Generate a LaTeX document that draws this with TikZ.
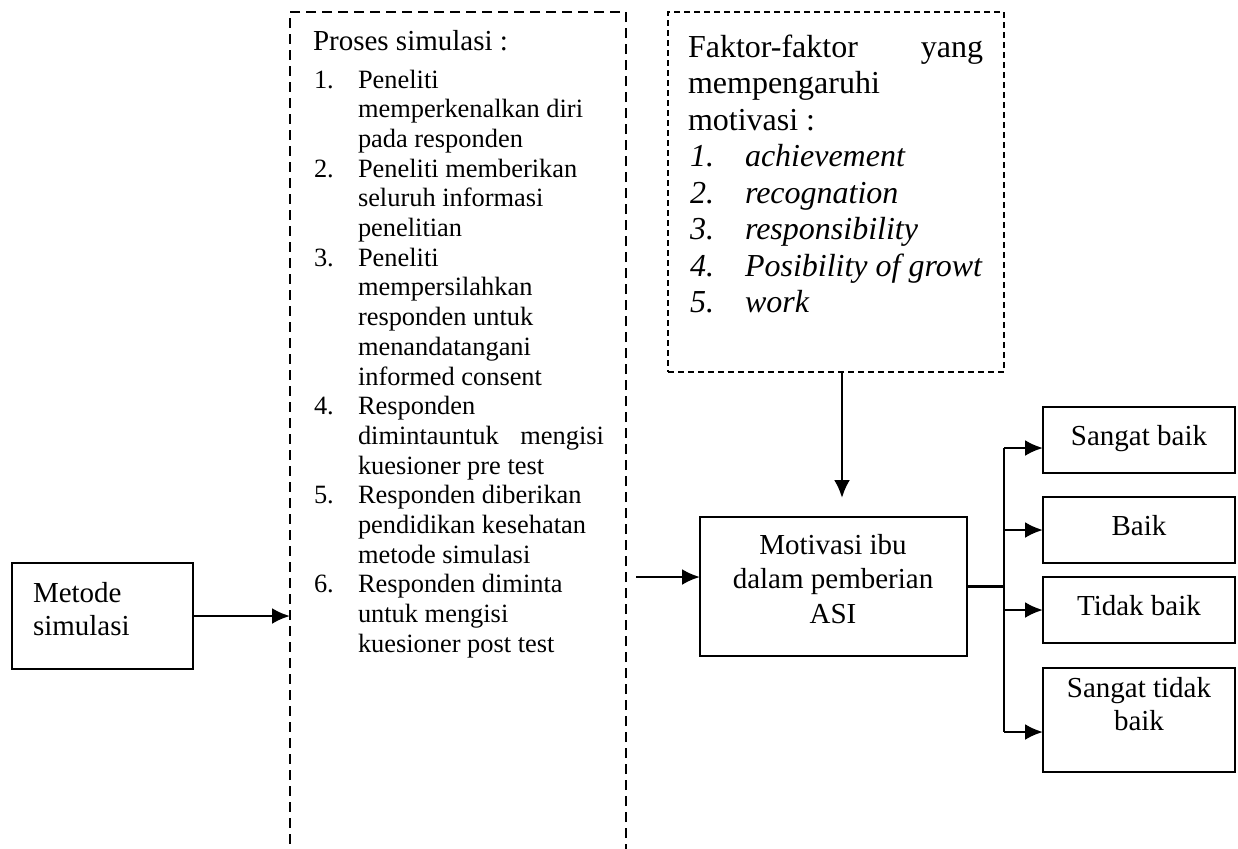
\documentclass[tikz,border=0pt]{standalone}
\usepackage{fontspec}
\setmainfont{Liberation Serif}
\usetikzlibrary{arrows.meta}
\tikzset{
  box/.style={draw,line width=1pt,inner sep=0pt,outer sep=0pt,anchor=north west},
  dashbox/.style={box,line width=1.1pt,dash pattern=on 5pt off 3pt},
  finebox/.style={box,line width=1.1pt,dash pattern=on 3pt off 2pt},
  itemtxt/.style={inner sep=0pt,outer sep=0pt,anchor=base west,font=\fontsize{13.2}{15}\selectfont},
  headtxt/.style={itemtxt,font=\fontsize{14.5}{16.7}\selectfont},
  factxt/.style={itemtxt,font=\fontsize{16}{18.4}\selectfont},
  facit/.style={itemtxt,font=\fontsize{16}{18.4}\selectfont\itshape},
  boxctr/.style={headtxt,anchor=base},
  arr/.style={-{Latex[length=9pt,width=8pt]},line width=1.3pt},
  wire/.style={line width=1.1pt},
}
\begin{document}
\begin{tikzpicture}[x=.5pt,y=-.5pt]
\useasboundingbox (0,0) rectangle (1238,848);
% boxes
\node[box,minimum width=90.5pt,minimum height=53pt] (metode) at (12,563) {};
\node[dashbox,minimum width=168pt,minimum height=429pt] (proses) at (290,12) {};
\node[finebox,minimum width=168pt,minimum height=180pt] (faktor) at (668,12) {};
\node[box,minimum width=133.5pt,minimum height=69.5pt] (motivasi) at (700,517) {};
\node[box,minimum width=96pt,minimum height=33pt] (sb) at (1043,407) {};
\node[box,minimum width=96pt,minimum height=33pt] (b) at (1043,497) {};
\node[box,minimum width=96pt,minimum height=33pt] (tb) at (1043,577) {};
\node[box,minimum width=96pt,minimum height=52pt] (stb) at (1043,668) {};
% metode
\node[headtxt] (m1) at (33,602) {Metode};
\node[headtxt] (m2) at (33,635) {simulasi};
% proses simulasi
\node[headtxt] (p0) at (313,50) {Proses simulasi :};
\node[itemtxt] (n1) at (314,88) {1.};
\node[itemtxt] (p1) at (358,88) {Peneliti};
\node[itemtxt] (p2) at (358,117.7) {memperkenalkan diri};
\node[itemtxt] (p3) at (358,147.4) {pada responden};
\node[itemtxt] (n2) at (314,177.1) {2.};
\node[itemtxt] (p4) at (358,177.1) {Peneliti memberikan};
\node[itemtxt] (p5) at (358,206.8) {seluruh informasi};
\node[itemtxt] (p6) at (358,236.5) {penelitian};
\node[itemtxt] (n3) at (314,266.2) {3.};
\node[itemtxt] (p7) at (358,266.2) {Peneliti};
\node[itemtxt] (p8) at (358,295.9) {mempersilahkan};
\node[itemtxt] (p9) at (358,325.6) {responden untuk};
\node[itemtxt] (p10) at (358,355.3) {menandatangani};
\node[itemtxt] (p11) at (358,385) {informed consent};
\node[itemtxt] (n4) at (314,414.7) {4.};
\node[itemtxt] (p12) at (358,414.7) {Responden};
\node[itemtxt] (p13) at (358,444.4) {\makebox[123pt][s]{dimintauntuk mengisi}};
\node[itemtxt] (p14) at (358,474.1) {kuesioner pre test};
\node[itemtxt] (n5) at (314,503.8) {5.};
\node[itemtxt] (p15) at (358,503.8) {Responden diberikan};
\node[itemtxt] (p16) at (358,533.5) {pendidikan kesehatan};
\node[itemtxt] (p17) at (358,563.2) {metode simulasi};
\node[itemtxt] (n6) at (314,592.9) {6.};
\node[itemtxt] (p18) at (358,592.9) {Responden diminta};
\node[itemtxt] (p19) at (358,622.6) {untuk mengisi};
\node[itemtxt] (p20) at (358,652.3) {kuesioner post test};
% faktor
\node[factxt] (f0) at (688,57) {\makebox[147.5pt][s]{Faktor-faktor yang}};
\node[factxt] (f1) at (688,93.5) {mempengaruhi};
\node[factxt] (f2) at (688,130) {motivasi :};
\node[facit] (k1) at (690,166.5) {1.};
\node[facit] (f3) at (745,166.5) {achievement};
\node[facit] (k2) at (690,203) {2.};
\node[facit] (f4) at (745,203) {recognation};
\node[facit] (k3) at (690,239.5) {3.};
\node[facit] (f5) at (745,239.5) {responsibility};
\node[facit] (k4) at (690,276) {4.};
\node[facit] (f6) at (745,276) {Posibility of growt};
\node[facit] (k5) at (690,312.5) {5.};
\node[facit] (f7) at (745,312.5) {work};
% motivasi
\node[boxctr] (v1) at (833,554) {Motivasi ibu};
\node[boxctr] (v2) at (833,588) {dalam pemberian};
\node[boxctr] (v3) at (833,623) {ASI};
% hasil
\node[boxctr] (h1) at (1139,445) {Sangat baik};
\node[boxctr] (h2) at (1139,535) {Baik};
\node[boxctr] (h3) at (1139,615) {Tidak baik};
\node[boxctr] (h4) at (1139,697) {Sangat tidak};
\node[boxctr] (h5) at (1139,730) {baik};
% connectors
\coordinate (pin) at (636,577);
\coordinate (fout) at (842,372);
\coordinate (bustop) at (1004,448);
\coordinate (busbot) at (1004,732);
\draw[arr] (metode.east) -- (metode.east -| proses.west);
\draw[arr,shorten >=9.5pt] (fout) -- (fout |- motivasi.north);
\draw[arr] (pin) -- (pin -| motivasi.west);
\draw[wire] (motivasi.east) -- (motivasi.east -| bustop);
\draw[wire] (bustop) -- (busbot);
\draw[arr] (bustop) -- (bustop -| sb.west);
\draw[arr] (b.west -| bustop) -- (b.west);
\draw[arr] (tb.west -| bustop) -- (tb.west);
\draw[arr] (busbot) -- (busbot -| stb.west);
\end{tikzpicture}
\end{document}
